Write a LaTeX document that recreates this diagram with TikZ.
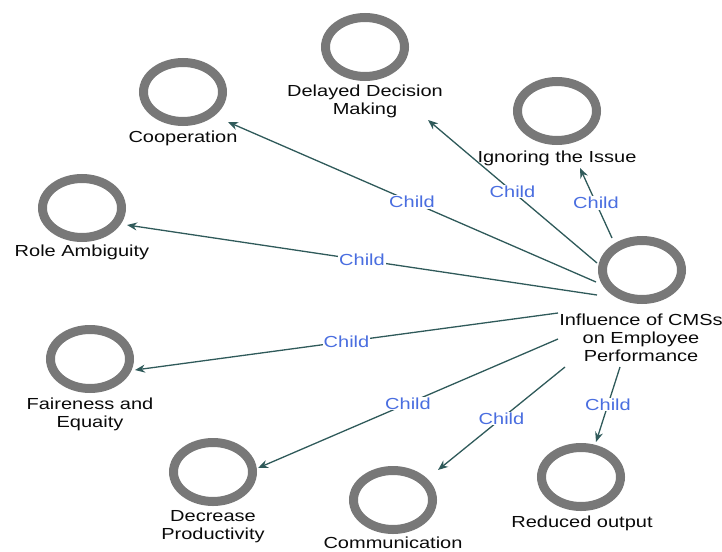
\documentclass[tikz,border=0pt]{standalone}
\usepackage{fontspec}
\setmainfont{Liberation Sans}[FakeStretch=1.25]
\usetikzlibrary{arrows.meta,shapes.geometric}
\definecolor{ringc}{HTML}{787878}
\definecolor{edgec}{HTML}{2F5A5A}
\definecolor{childc}{HTML}{4A6EE0}
\definecolor{txtc}{HTML}{0A0A0A}
\begin{document}
\begin{tikzpicture}[x=1pt,y=-1pt,
  ringnode/.style={draw=ringc, line width=9pt, ellipse, minimum width=79pt, minimum height=59pt, inner sep=0pt},
  lab/.style={text=txtc, align=center, inner sep=0pt, font=\fontsize{16}{18}\selectfont},
  edge/.style={draw=edgec, line width=1.3pt, -{Stealth[length=10pt,width=8pt]}},
  childlbl/.style={fill=white, text=childc, inner sep=1pt, font=\fontsize{16}{18}\selectfont}]
\useasboundingbox (0,0) rectangle (722,551);
% nodes
\node[ringnode] (inf) at (642,270) {};
\node[lab] (infL) at (641,338) {Influence of CMSs\\on Employee\\Performance};
\node[ringnode] (coop) at (183,92) {};
\node[lab] (coopL) at (183,138) {Cooperation};
\node[ringnode] (delay) at (365,47) {};
\node[lab] (delayL) at (365,101) {Delayed Decision\\Making};
\node[ringnode] (ign) at (557,111) {};
\node[lab] (ignL) at (557,158) {Ignoring the Issue};
\node[ringnode] (role) at (82,208) {};
\node[lab] (roleL) at (82,252) {Role Ambiguity};
\node[ringnode] (fair) at (90,359) {};
\node[lab] (fairL) at (90,414) {Faireness and\\Equaity};
\node[ringnode] (decr) at (213,472) {};
\node[lab] (decrL) at (213,527) {Decrease\\Productivity};
\node[ringnode] (comm) at (393,500) {};
\node[lab] (commL) at (393,543) {Communication};
\node[ringnode] (red) at (581,477) {};
\node[lab] (redL) at (582,523) {Reduced output};
% connector end points
\coordinate (coopS) at (596,282);  \coordinate (coopT) at (228,122);
\coordinate (delayS) at (597,263); \coordinate (delayT) at (428,120);
\coordinate (ignS) at (612,238);   \coordinate (ignT) at (580,168);
\coordinate (roleS) at (597,295);  \coordinate (roleT) at (127,225);
\coordinate (fairS) at (558,313);  \coordinate (fairT) at (135,370);
\coordinate (decrS) at (558,339);  \coordinate (decrT) at (258,468);
\coordinate (commS) at (565,367);  \coordinate (commT) at (438,470);
\coordinate (redS) at (620,367);   \coordinate (redT) at (596,442);
% connectors
\draw[edge] (coopS) -- node[childlbl]{Child} (coopT);
\draw[edge] (delayS) -- node[childlbl]{Child} (delayT);
\draw[edge] (ignS) -- node[childlbl]{Child} (ignT);
\draw[edge] (roleS) -- node[childlbl]{Child} (roleT);
\draw[edge] (fairS) -- node[childlbl]{Child} (fairT);
\draw[edge] (decrS) -- node[childlbl]{Child} (decrT);
\draw[edge] (commS) -- node[childlbl]{Child} (commT);
\draw[edge] (redS) -- node[childlbl]{Child} (redT);
\end{tikzpicture}
\end{document}
